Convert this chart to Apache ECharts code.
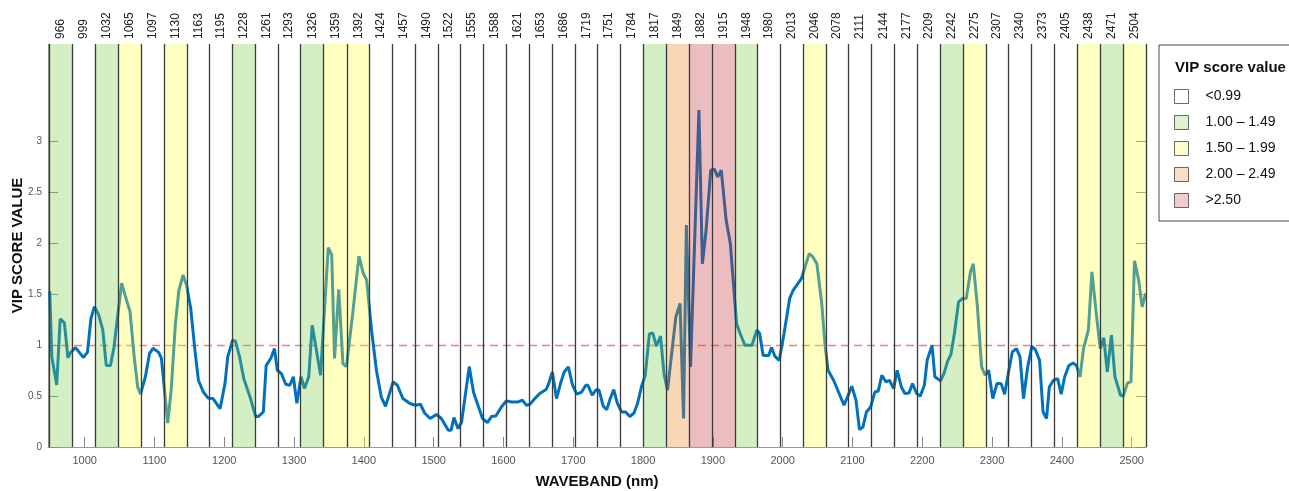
<!DOCTYPE html>
<html>
<head>
<meta charset="utf-8">
<script src="https://cdn.jsdelivr.net/npm/echarts@6/dist/echarts.min.js"></script>
<style>
  html, body { margin: 0; padding: 0; background: #fff; }
  #vip_chart { width: 1289px; height: 491px; }
</style>
</head>
<body>
<div id="vip_chart"></div>
<script>
// band centres printed along the top (nm)
const bandCenters = [966, 999, 1032, 1065, 1097, 1130, 1163, 1195, 1228, 1261, 1293, 1326, 1359, 1392, 1424, 1457,
  1490, 1522, 1555, 1588, 1621, 1653, 1686, 1719, 1751, 1784, 1817, 1849, 1882, 1915, 1948, 1980,
  2013, 2046, 2078, 2111, 2144, 2177, 2209, 2242, 2275, 2307, 2340, 2373, 2405, 2438, 2471, 2504]
// VIP class of each band: 0 <0.99, 1 1.00-1.49, 2 1.50-1.99, 3 2.00-2.49, 4 >2.50
const bandClass = [1, 0, 1, 2, 0, 2, 0, 0, 1, 0, 0, 1, 2, 2, 0, 0,
  0, 0, 0, 0, 0, 0, 0, 0, 0, 0, 1, 3, 4, 4, 1, 0,
  0, 2, 0, 0, 0, 0, 0, 1, 2, 0, 0, 0, 0, 2, 1, 2]
const classNames = ['<0.99', '1.00 – 1.49', '1.50 – 1.99', '2.00 – 2.49', '>2.50']
const classColors = ['#ffffff', '#d6efc6', '#fdfdc0', '#f8d6b6', '#ecc0c2']
const classOverlay = ['rgba(255,255,255,0)', 'rgba(125,205,74,0.32)', 'rgba(255,255,58,0.32)',
  'rgba(236,127,27,0.32)', 'rgba(196,55,61,0.33)']

const xTicks = [1000, 1100, 1200, 1300, 1400, 1500, 1600, 1700, 1800, 1900, 2000, 2100, 2200, 2300, 2400, 2500]
const yTicks = [0, 0.5, 1, 1.5, 2, 2.5, 3]
const threshold = 1

// VIP score curve
const waveband = [950, 953, 960, 965, 971, 976, 980, 987, 998, 1004, 1009, 1014, 1020, 1026, 1031, 1037,
  1042, 1053, 1058, 1065, 1071, 1076, 1080, 1087, 1093, 1098, 1106, 1110, 1119, 1124, 1130, 1135,
  1141, 1146, 1152, 1158, 1163, 1170, 1177, 1184, 1194, 1201, 1205, 1212, 1216, 1222, 1228, 1237,
  1245, 1249, 1256, 1260, 1267, 1272, 1276, 1282, 1288, 1294, 1299, 1304, 1310, 1315, 1321, 1326,
  1332, 1338, 1349, 1354, 1358, 1364, 1370, 1375, 1384, 1393, 1399, 1404, 1411, 1418, 1425, 1431,
  1436, 1442, 1448, 1456, 1466, 1474, 1481, 1487, 1495, 1504, 1511, 1521, 1525, 1529, 1535, 1540,
  1551, 1557, 1561, 1570, 1577, 1583, 1589, 1597, 1604, 1612, 1621, 1627, 1633, 1638, 1645, 1652,
  1661, 1664, 1670, 1676, 1682, 1687, 1693, 1699, 1705, 1712, 1718, 1721, 1727, 1733, 1737, 1743,
  1748, 1753, 1758, 1763, 1769, 1775, 1781, 1787, 1792, 1798, 1803, 1809, 1814, 1819, 1825, 1830,
  1835, 1842, 1847, 1853, 1858, 1862, 1868, 1874, 1880, 1885, 1890, 1897, 1902, 1907, 1912, 1919,
  1925, 1934, 1939, 1946, 1956, 1963, 1967, 1972, 1980, 1984, 1989, 1995, 2002, 2010, 2015, 2027,
  2032, 2038, 2043, 2049, 2056, 2061, 2065, 2073, 2080, 2088, 2099, 2105, 2110, 2115, 2120, 2126,
  2132, 2137, 2142, 2148, 2153, 2159, 2164, 2170, 2175, 2181, 2186, 2192, 2197, 2203, 2207, 2214,
  2218, 2226, 2231, 2236, 2241, 2246, 2252, 2258, 2263, 2269, 2273, 2279, 2285, 2290, 2295, 2301,
  2307, 2313, 2318, 2324, 2329, 2335, 2340, 2345, 2351, 2357, 2362, 2368, 2373, 2378, 2382, 2388,
  2394, 2399, 2404, 2410, 2416, 2421, 2426, 2431, 2438, 2443, 2449, 2455, 2460, 2465, 2471, 2476,
  2484, 2488, 2494, 2499, 2504, 2510, 2515, 2520]
const vipScore = [1.53, 0.885, 0.61, 1.26, 1.22, 0.875, 0.93, 0.977, 0.88, 0.93, 1.26, 1.38, 1.30, 1.15, 0.80, 0.80,
  0.98, 1.61, 1.49, 1.33, 0.885, 0.59, 0.52, 0.69, 0.92, 0.97, 0.93, 0.87, 0.236, 0.56, 1.21, 1.54,
  1.69, 1.59, 1.36, 0.95, 0.656, 0.54, 0.48, 0.476, 0.377, 0.62, 0.885, 1.05, 1.04, 0.885, 0.67, 0.49,
  0.30, 0.30, 0.344, 0.80, 0.875, 0.967, 0.754, 0.72, 0.616, 0.607, 0.69, 0.43, 0.69, 0.574, 0.69, 1.197,
  0.95, 0.705, 1.96, 1.885, 0.87, 1.55, 0.82, 0.79, 1.31, 1.875, 1.71, 1.64, 1.15, 0.754, 0.49, 0.40,
  0.51, 0.64, 0.607, 0.476, 0.427, 0.41, 0.42, 0.334, 0.28, 0.32, 0.28, 0.164, 0.164, 0.29, 0.18, 0.246,
  0.79, 0.54, 0.46, 0.28, 0.24, 0.30, 0.305, 0.393, 0.452, 0.443, 0.443, 0.46, 0.41, 0.42, 0.476, 0.525,
  0.564, 0.607, 0.737, 0.476, 0.63, 0.737, 0.787, 0.607, 0.52, 0.54, 0.607, 0.607, 0.51, 0.564, 0.557, 0.40,
  0.367, 0.476, 0.564, 0.433, 0.344, 0.344, 0.30, 0.334, 0.427, 0.60, 0.70, 1.11, 1.12, 0.99, 1.09, 0.72,
  0.557, 0.98, 1.28, 1.41, 0.28, 2.18, 0.787, 2.05, 3.31, 1.80, 2.11, 2.72, 2.73, 2.655, 2.72, 2.23,
  2.00, 1.21, 1.115, 1.00, 1.00, 1.15, 1.115, 0.90, 0.90, 0.977, 0.89, 0.85, 1.115, 1.46, 1.54, 1.656,
  1.77, 1.90, 1.87, 1.80, 1.41, 0.98, 0.754, 0.656, 0.54, 0.41, 0.597, 0.46, 0.171, 0.197, 0.344, 0.393,
  0.54, 0.55, 0.705, 0.64, 0.656, 0.574, 0.754, 0.59, 0.525, 0.53, 0.623, 0.525, 0.50, 0.607, 0.853, 1.00,
  0.69, 0.65, 0.72, 0.836, 0.91, 1.115, 1.426, 1.46, 1.46, 1.72, 1.80, 1.377, 0.787, 0.705, 0.754, 0.476,
  0.623, 0.623, 0.518, 0.754, 0.934, 0.967, 0.885, 0.476, 0.787, 0.99, 0.957, 0.853, 0.344, 0.28, 0.59, 0.656,
  0.672, 0.518, 0.69, 0.80, 0.826, 0.80, 0.69, 0.967, 1.15, 1.72, 1.327, 0.967, 1.075, 0.737, 1.10, 0.69,
  0.508, 0.50, 0.63, 0.64, 1.83, 1.64, 1.377, 1.51]

const FONT = 'Liberation Sans, Arial, Helvetica, sans-serif'

// band edges halfway between centres, ends extrapolated by half a step
const bandEdges = []
bandCenters.forEach((c, i) => {
  if (i === 0) bandEdges.push(c - (bandCenters[1] - c) / 2)
  if (i < bandCenters.length - 1) bandEdges.push((c + bandCenters[i + 1]) / 2)
  else bandEdges.push(c + (c - bandCenters[i - 1]) / 2)
})
const xMin = 947.5
const xMax = 2520.5

const classSeries = classNames.map((name, k) => ({
  name: name,
  type: 'scatter',
  data: [],
  z: 3,
  itemStyle: { color: classColors[k] },
  markArea: {
    silent: true,
    z: 3,
    itemStyle: { color: classOverlay[k] },
    data: bandClass
      .map((cl, i) => (cl === k ? [{ xAxis: bandEdges[i] }, { xAxis: bandEdges[i + 1] }] : null))
      .filter((d) => d),
  },
}))

const option = {
  animation: false,
  textStyle: { fontFamily: FONT },
  title: {
    text: 'VIP score value',
    left: 1170,
    top: 55,
    textStyle: { fontFamily: FONT, fontSize: 15, fontWeight: 'bold', color: '#111' },
  },
  legend: {
    orient: 'vertical',
    left: 1159,
    top: 45,
    padding: [44, 80, 13, 15],
    borderColor: '#444',
    borderWidth: 1,
    icon: 'rect',
    itemWidth: 14,
    itemHeight: 14,
    itemGap: 11,
    itemStyle: { borderColor: '#444', borderWidth: 1 },
    textStyle: { fontFamily: FONT, fontSize: 14, color: '#111', padding: [0, 0, 0, 12] },
    data: classNames,
    selectedMode: false,
  },
  grid: { left: 48, right: 143, top: 44, bottom: 44, outerBoundsMode: 'none', containLabel: false },
  xAxis: [
    {
      type: 'value',
      position: 'bottom',
      min: xMin,
      max: xMax,
      name: 'WAVEBAND (nm)',
      nameLocation: 'middle',
      nameGap: 27,
      nameTextStyle: { fontFamily: FONT, fontSize: 15, fontWeight: 'bold', color: '#111' },
      axisLine: { show: true, lineStyle: { color: '#999', width: 1 } },
      axisTick: { show: true, inside: true, length: 10, customValues: xTicks, lineStyle: { color: '#888' } },
      axisLabel: {
        customValues: xTicks, margin: 8, fontSize: 11, color: '#555', fontFamily: FONT,
        formatter: (v) => String(v),
      },
      splitLine: { show: false },
    },
    {
      type: 'value',
      position: 'top',
      min: xMin,
      max: xMax,
      axisLine: { show: false },
      axisTick: { show: false },
      axisLabel: {
        customValues: bandCenters,
        rotate: 90,
        margin: 5,
        fontSize: 12,
        color: '#222',
        fontFamily: FONT,
        formatter: (v) => String(Math.round(v)),
      },
      splitLine: { show: false },
    },
  ],
  yAxis: [
    {
      type: 'value',
      position: 'left',
      min: 0,
      max: 3.96,
      name: 'VIP SCORE VALUE',
      nameLocation: 'middle',
      nameGap: 23,
      nameMoveOverlap: false,
      nameTextStyle: { fontFamily: FONT, fontSize: 15, fontWeight: 'bold', color: '#111' },
      axisLine: { show: true, lineStyle: { color: '#999', width: 1 } },
      axisTick: { show: true, inside: true, length: 10, customValues: yTicks, lineStyle: { color: '#888' } },
      axisLabel: { customValues: yTicks, margin: 6, fontSize: 10, color: '#555', fontFamily: FONT },
      splitLine: { show: false },
    },
    {
      type: 'value',
      position: 'right',
      min: 0,
      max: 3.96,
      axisLine: { show: true, lineStyle: { color: '#999', width: 1 } },
      axisTick: { show: true, inside: true, length: 10, customValues: yTicks, lineStyle: { color: '#888' } },
      axisLabel: { show: false },
      splitLine: { show: false },
    },
  ],
  series: [
    {
      name: 'VIP',
      type: 'line',
      z: 2,
      symbol: 'none',
      smooth: false,
      lineStyle: { color: '#0072bd', width: 3 },
      data: waveband.map((w, i) => [w, vipScore[i]]),
      markLine: {
        silent: true,
        z: 2,
        symbol: 'none',
        label: { show: false },
        lineStyle: { color: '#ff5a5a', width: 1.4, type: [8, 5], opacity: 0.8 },
        data: [{ yAxis: threshold }],
      },
    },
    ...classSeries,
    {
      // vertical band separators
      name: 'edges',
      type: 'scatter',
      data: [],
      z: 4,
      markLine: {
        silent: true,
        z: 4,
        symbol: 'none',
        label: { show: false },
        lineStyle: { color: '#3a3a3a', width: 1.3, type: 'solid' },
        data: bandEdges.map((e) => ({ xAxis: e })),
      },
    },
  ],
}

const myChart = echarts.init(document.getElementById('vip_chart'))
myChart.setOption(option, true)
</script>
</body>
</html>
